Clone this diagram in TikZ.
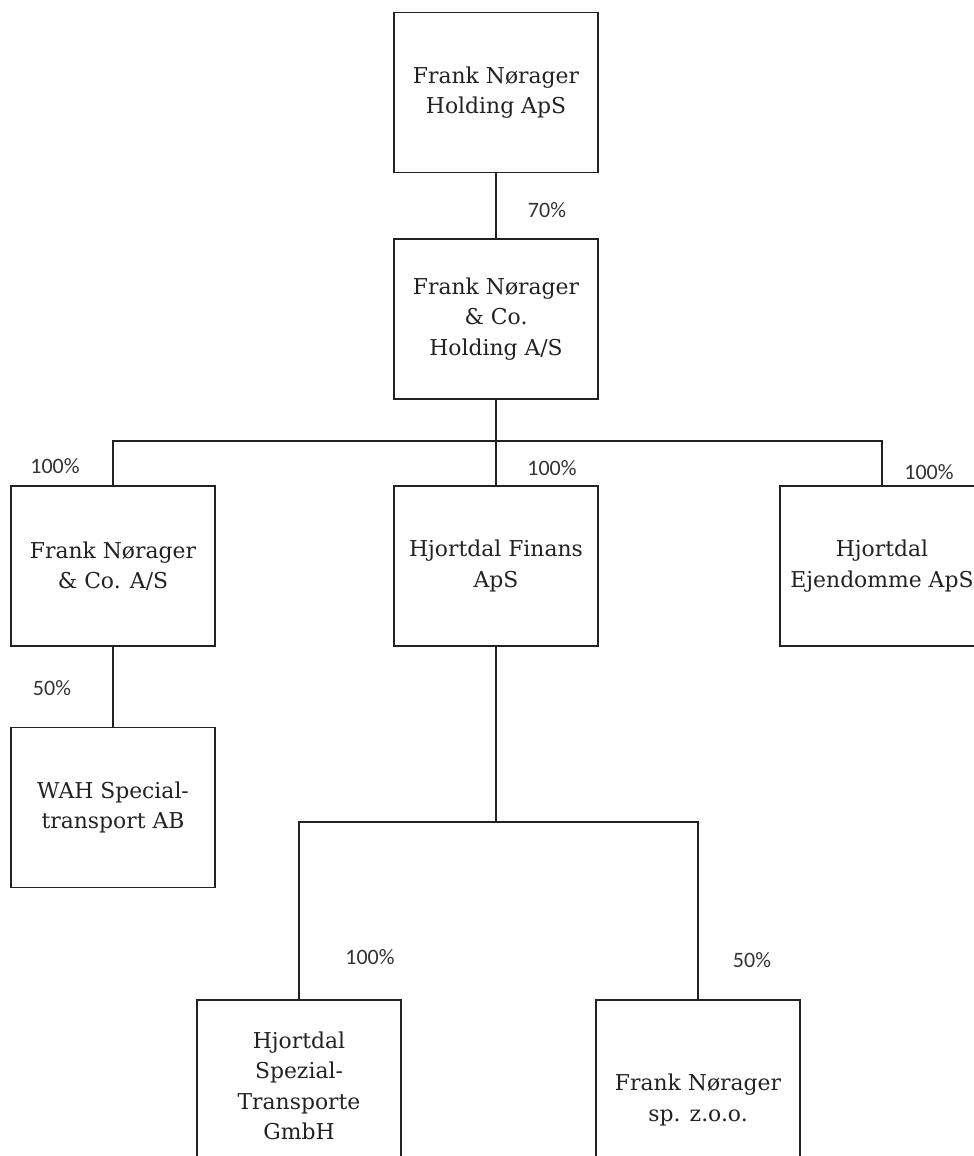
\documentclass[tikz,border=0pt]{standalone}
\usepackage{fontspec}
\setmainfont{DejaVu Serif}
\newfontfamily\pctfont{Carlito}

\tikzset{every picture/.style={line width=1.2pt}}
\tikzset{
  firm/.style={draw={rgb, 255:red, 34; green, 34; blue, 34 },rectangle,minimum width=153pt,minimum height=120pt,inner sep=0pt,align=center,font=\fontsize{16.4}{22.8}\selectfont,text={rgb, 255:red, 34; green, 34; blue, 34 }},
  share/.style={inner sep=0.75pt,font=\pctfont\fontsize{16.5}{19}\selectfont,text={rgb, 255:red, 51; green, 51; blue, 51 }}
}

\begin{document}
\begin{tikzpicture}[x=0.75pt,y=0.75pt,yscale=-1,xscale=1,draw={rgb, 255:red, 34; green, 34; blue, 34 }]
        \useasboundingbox (0,0) rectangle (974,1156);
        \clip (0,0) rectangle (974,1156);

        %Shape: Rectangle [id:holding]
        \node [firm] (holding) at (496,92.5) {Frank Nørager\\Holding ApS};
        %Shape: Rectangle [id:coholding]
        \node [firm] (coholding) at (496,319) {Frank Nørager\\\& Co.\\Holding A/S};
        %Shape: Rectangle [id:fnco]
        \node [firm] (fnco) at (113,566) {Frank Nørager\\\& Co. A/S};
        %Shape: Rectangle [id:finans]
        \node [firm] (finans) at (496,566) {Hjortdal Finans\\ApS};
        %Shape: Rectangle [id:ejendomme]
        \node [firm] (ejendomme) at (882,566) {Hjortdal\\Ejendomme ApS};
        %Shape: Rectangle [id:wah]
        \node [firm] (wah) at (113,807.5) {WAH Special-\\transport AB};
        %Shape: Rectangle [id:spezial]
        \node [firm,minimum height=129pt] (spezial) at (299,1086) {Hjortdal\\Spezial-\\Transporte\\GmbH};
        %Shape: Rectangle [id:spzoo]
        \node [firm,minimum height=150pt] (spzoo) at (698,1100) {Frank Nørager\\sp. z.o.o.};

        %Straight Lines [id:bus]
        \coordinate (bus1) at (496,441);
        \coordinate (bus2) at (496,822);
        \draw (holding) -- (coholding);
        \draw (coholding) -- (bus1);
        \draw (fnco.north) |- (bus1) -| (ejendomme.north);
        \draw (bus1) -- (finans);
        \draw (fnco) -- (wah);
        \draw (finans) -- (bus2);
        \draw (spezial.north) |- (bus2) -| (spzoo.north);

        % Text Node
        \node [share] (p70) at (547,210) {70\%};
        % Text Node
        \node [share] (p100a) at (55,466) {100\%};
        % Text Node
        \node [share] (p100b) at (552,468) {100\%};
        % Text Node
        \node [share] (p100c) at (929,472) {100\%};
        % Text Node
        \node [share] (p50a) at (52,688) {50\%};
        % Text Node
        \node [share] (p100d) at (370,957) {100\%};
        % Text Node
        \node [share] (p50b) at (752,960) {50\%};

\end{tikzpicture}
\end{document}
